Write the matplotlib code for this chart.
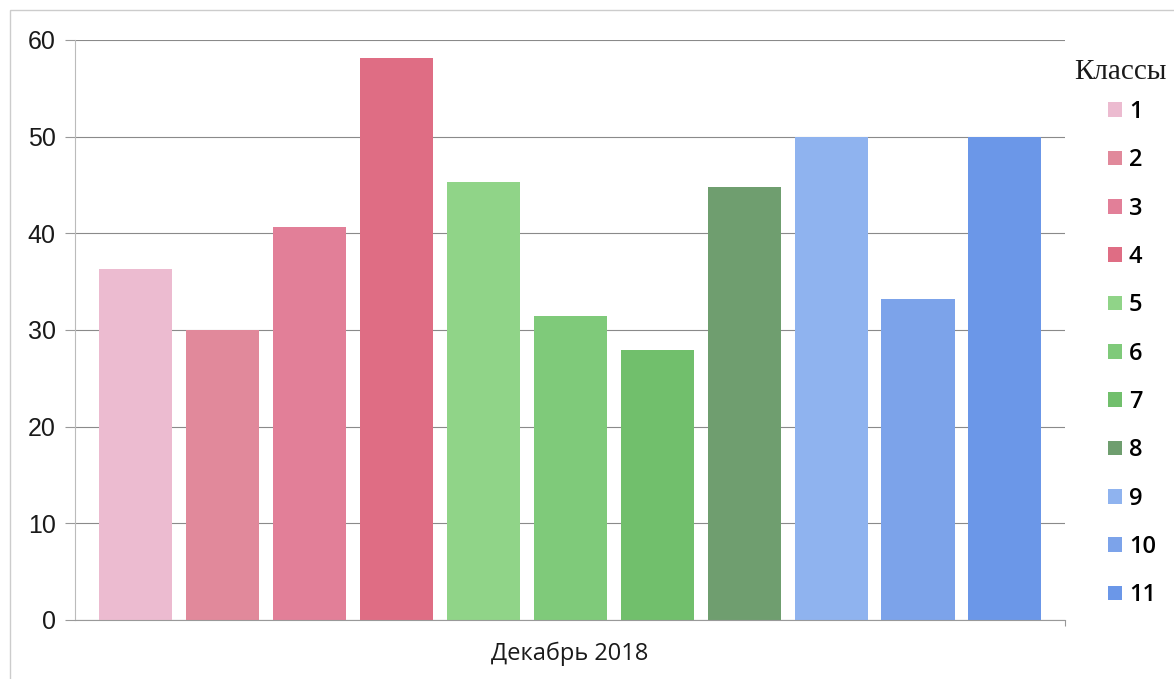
import matplotlib
matplotlib.use("Agg")
from matplotlib import pyplot as plt
from matplotlib.patches import Rectangle

classes = ['1', '2', '3', '4', '5', '6', '7', '8', '9', '10', '11']
counts = [36.3, 30.0, 40.7, 58.1, 45.3, 31.4, 27.9, 44.8, 50.0, 33.2, 50.0]
colors = ['#ecbbd0', '#e1899b', '#e27f98', '#df6d84',
          '#90d488', '#7fca7a', '#71bf6c', '#6f9e6f',
          '#8fb3ef', '#7ca3ea', '#6b97e8']
y_ticks = [0, 10, 20, 30, 40, 50, 60]
month = 'Декабрь 2018'

fig = plt.figure(figsize=(11.74, 6.79), dpi=100)
ax = fig.add_axes([0.0639, 0.0869, 0.8432, 0.8542])

x = list(range(len(classes)))
bars = ax.bar(x, counts, width=0.84, color=colors, zorder=2)

ax.set_xlim(-0.695, 10.69)
ax.set_ylim(0, 60)
ax.set_yticks(y_ticks)
ax.set_yticklabels([str(v) for v in y_ticks],
                   family='Liberation Sans', fontsize=18, color='#1a1a1a')
ax.set_xticks([10.69])
ax.set_xticklabels([''])
ax.tick_params(axis='y', length=7, color='#999999', pad=7)
ax.tick_params(axis='x', length=4, color='#999999')
ax.grid(axis='y', color='#8a8a8a', linewidth=0.8, zorder=0)

for side in ['top', 'right']:
    ax.spines[side].set_visible(False)
ax.spines['left'].set_color('#bbbbbb')
ax.spines['bottom'].set_color('#999999')

ax.set_xlabel(month, family='Open Sans', fontsize=17, color='#1a1a1a', labelpad=8)

# legend on the right, title as separate text
fig.text(1120 / 1174, 1 - 72 / 679, 'Классы', family='Liberation Serif',
         fontsize=21, ha='center', va='center', color='#1a1a1a')
fig.legend(bars, classes, loc='upper left',
           bbox_to_anchor=(1108 / 1174, 1 - 100 / 679), frameon=False,
           borderpad=0, borderaxespad=0,
           prop={'family': 'Open Sans', 'size': 17, 'weight': 'semibold'},
           handlelength=0.58, handleheight=0.58, handletextpad=0.3,
           labelspacing=1.03)

# light border around the whole chart
fig.patches.append(Rectangle((10 / 1174, -0.01), 1.1, 1 - 10 / 679 + 0.01,
                             transform=fig.transFigure, fill=False,
                             edgecolor='#cccccc', linewidth=1.0))

plt.savefig('out.png', dpi=100)
